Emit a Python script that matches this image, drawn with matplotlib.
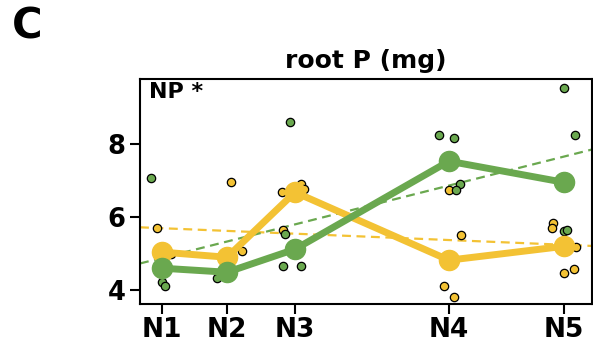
import matplotlib
matplotlib.use("Agg")
import matplotlib.pyplot as plt

# x positions of the five N levels (axis units)
levels = ["N1", "N2", "N3", "N4", "N5"]
level_x = [0.0, 1.0, 2.05, 4.43, 6.21]

# treatment means
green_mean = [4.60, 4.49, 5.12, 7.53, 6.95]
yellow_mean = [5.04, 4.90, 6.68, 4.82, 5.20]

# individual plants (x with jitter, value)
green_x = [-0.18, 0.0, 0.04, 0.84, 1.97, 1.89, 1.87, 2.14,
           4.28, 4.51, 4.60, 4.54, 6.21, 6.38, 6.21, 6.26]
green_y = [7.07, 4.23, 4.11, 4.34, 8.60, 5.53, 4.66, 4.67,
           8.25, 8.17, 6.90, 6.74, 9.53, 8.25, 5.63, 5.64]
yellow_x = [-0.08, 0.13, 1.06, 1.23, 1.85, 2.15, 2.19, 1.86,
            4.43, 4.62, 4.35, 4.51, 6.04, 6.02, 6.39, 6.20, 6.36]
yellow_y = [5.70, 5.00, 6.97, 5.08, 6.68, 6.90, 6.77, 5.64,
            6.74, 5.51, 4.12, 3.81, 5.83, 5.69, 5.19, 4.47, 4.57]

# dashed trend lines, value at left and right edge of the axis
xlim = (-0.345, 6.64)
green_trend = [4.73, 7.85]
yellow_trend = [5.72, 5.21]

GREEN = "#6aa84f"
YELLOW = "#f3c234"

fig = plt.figure(figsize=(5.93, 3.45), dpi=100)
ax = fig.add_axes([0.2361, 0.1188, 0.7622, 0.6522])

ax.plot(xlim, yellow_trend, color=YELLOW, lw=1.6, ls=(0, (4, 2.5)), zorder=1)
ax.plot(xlim, green_trend, color=GREEN, lw=1.6, ls=(0, (4, 2.5)), zorder=1)

ax.plot(yellow_x, yellow_y, "o", ms=6, mfc=YELLOW, mec="black", mew=0.9, zorder=2)
ax.plot(green_x, green_y, "o", ms=6, mfc=GREEN, mec="black", mew=0.9, zorder=2)

ax.plot(level_x, yellow_mean, "-o", color=YELLOW, lw=5, ms=14.5, zorder=3)
ax.plot(level_x, green_mean, "-o", color=GREEN, lw=5, ms=14.5, zorder=4)

ax.set_xlim(*xlim)
ax.set_ylim(3.62, 9.78)
ax.set_xticks(level_x)
ax.set_xticklabels(levels)
ax.set_yticks([4, 6, 8])
for lab in ax.get_xticklabels() + ax.get_yticklabels():
    lab.set_fontweight("bold")
ax.tick_params(axis="x", labelsize=19, length=7.5, width=1.5, pad=2)
ax.tick_params(axis="y", labelsize=18.5, length=7.5, width=1.5, pad=3)
for s in ax.spines.values():
    s.set_linewidth(1.5)

ax.set_title("root P (mg)", fontsize=18, fontweight="bold", pad=8)
ax.text(0.02, 0.985, "NP *", transform=ax.transAxes, ha="left", va="top",
        fontsize=16, fontweight="bold")
fig.text(0.02, 0.985, "C", ha="left", va="top", fontsize=30, fontweight="bold")

fig.savefig("out.png", dpi=100)
